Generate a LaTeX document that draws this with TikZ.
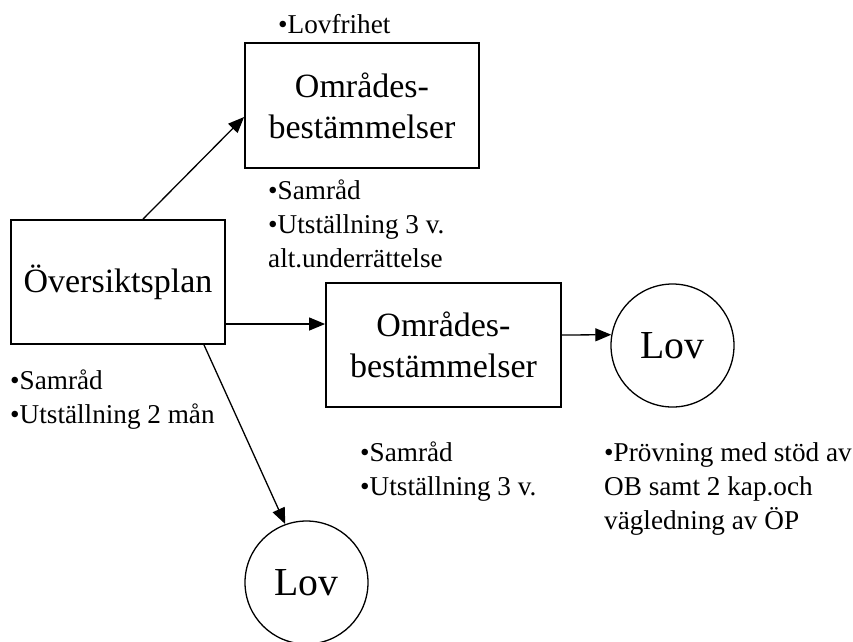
\documentclass[tikz,border=0pt]{standalone}
\usepackage{fontspec}
\setmainfont{Liberation Serif}
\usetikzlibrary{arrows.meta}
\begin{document}
\begin{tikzpicture}[x=1pt,y=-1pt,
  boxnode/.style={draw, line width=1.8pt, rectangle, inner sep=0pt, align=center,
    font=\fontsize{34}{41}\selectfont},
  lovnode/.style={draw, line width=1.3pt, circle, inner sep=0pt, minimum size=123pt,
    font=\fontsize{39.7}{48}\selectfont},
  notes/.style={inner sep=0pt, anchor=base west, align=left,
    font=\fontsize{27.2}{34}\selectfont},
  conn/.style={line width=1.3pt, -{Triangle[length=16pt,width=13pt]}}]
\useasboundingbox (0,0) rectangle (853,641);
\node[boxnode, minimum width=214pt, minimum height=124pt] (op) at (118,282) {Översiktsplan};
\node[boxnode, minimum width=234pt, minimum height=125pt] (tb) at (362,105.5) {Områdes-\\bestämmelser};
\node[boxnode, minimum width=235pt, minimum height=124pt] (mb) at (443.5,345) {Områdes-\\bestämmelser};
\node[lovnode] (lov1) at (672.5,345.5) {Lov};
\node[lovnode] (lov2) at (306.5,582.5) {Lov};
% anchor = baseline of the last line
\node[notes] (n1) at (278,33) {•Lovfrihet};
\node[notes] (n2) at (268,267) {•Samråd\\•Utställning 3 v.\\alt.underrättelse};
\node[notes] (n3) at (10,423) {•Samråd\\•Utställning 2 mån};
\node[notes] (n4) at (360,495) {•Samråd\\•Utställning 3 v.};
\node[notes] (n5) at (604,529) {•Prövning med stöd av\\OB samt 2 kap.och\\vägledning av ÖP};
\draw[conn] ([xshift=25pt]op.north) -- ([yshift=-11.5pt]tb.west);
\draw[conn] ([yshift=-42pt]op.east) -- ([yshift=21pt]mb.west);
\draw[conn] ([yshift=10pt]mb.east) -- (lov1.170);
\draw[conn] ([xshift=86pt]op.south) -- (lov2.110);
\end{tikzpicture}
\end{document}
